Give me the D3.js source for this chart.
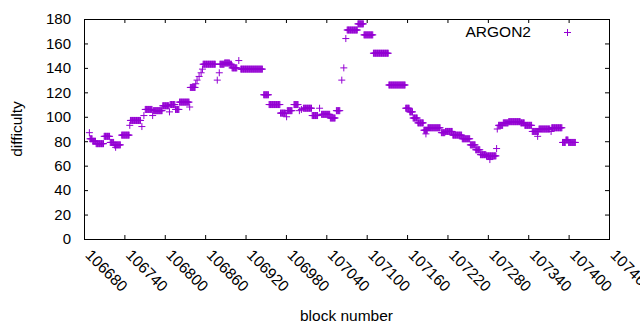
<!DOCTYPE html>
<html>
<head>
<meta charset="utf-8">
<script src="https://cdn.jsdelivr.net/npm/d3@7"></script>
<style>
  body { margin: 0; background: #fff; }
  svg { font-family: "Liberation Sans", Arial, sans-serif; }
</style>
</head>
<body>
<div id="chart"></div>
<script>
// difficulty held constant over runs of blocks: [runStart, runEnd] -> difficulty
const runStart = [106688, 106689, 106693, 106698, 106710, 106719, 106725, 106727, 106736, 106748,
  106749, 106766, 106769, 106771, 106782, 106783, 106797, 106807, 106808, 106816,
  106822, 106837, 106838, 106846, 106848, 106851, 106854, 106856, 106857, 106878,
  106881, 106882, 106889, 106897, 106900, 106910, 106913, 106947, 106955, 106972,
  106981, 106982, 106992, 107000, 107003, 107006, 107019, 107030, 107033, 107046,
  107055, 107063, 107066, 107069, 107071, 107087, 107096, 107110, 107133, 107158,
  107164, 107169, 107176, 107185, 107188, 107191, 107211, 107217, 107228, 107242,
  107254, 107262, 107269, 107278, 107283, 107293, 107294, 107296, 107303, 107311,
  107329, 107335, 107346, 107354, 107356, 107374, 107375, 107391, 107396, 107400];
const runEnd = [106688, 106692, 106697, 106709, 106718, 106724, 106734, 106727, 106747, 106748,
  106764, 106766, 106769, 106781, 106782, 106796, 106806, 106807, 106815, 106821,
  106836, 106837, 106845, 106846, 106848, 106851, 106854, 106856, 106875, 106878,
  106881, 106888, 106896, 106899, 106907, 106910, 106945, 106954, 106971, 106979,
  106981, 106989, 106998, 107000, 107003, 107018, 107027, 107030, 107045, 107053,
  107060, 107063, 107066, 107069, 107086, 107095, 107109, 107132, 107157, 107163,
  107168, 107175, 107184, 107190, 107188, 107209, 107216, 107227, 107241, 107253,
  107261, 107268, 107277, 107292, 107283, 107293, 107294, 107302, 107310, 107328,
  107334, 107345, 107355, 107354, 107372, 107374, 107390, 107395, 107399, 107410];
const difficulty = [87, 82, 80, 78, 84, 79, 77, 75, 85, 93,
  97, 92, 101, 106, 101, 105, 109, 104, 110, 106,
  112, 108, 124, 127, 130, 133, 136, 139, 143, 130,
  136, 143, 144, 143, 140, 146, 139, 118, 110, 103,
  100, 105, 110, 105, 106, 107, 101, 107, 102, 99,
  105, 130, 140, 164, 171, 176, 167, 152, 126, 107,
  104, 99, 95, 89, 86, 91, 87, 88, 85, 82,
  77, 73, 69, 68, 65, 74, 90, 93, 95, 96,
  95, 93, 88, 84, 90, 88, 91, 79, 81, 79];

const xTicks = [106680, 106740, 106800, 106860, 106920, 106980, 107040,
  107100, 107160, 107220, 107280, 107340, 107400, 107460];
const yTicks = [0, 20, 40, 60, 80, 100, 120, 140, 160, 180];
const seriesName = "ARGON2";

const margin = {top: 19, right: 31, bottom: 91, left: 84};
const width = 640 - margin.left - margin.right;
const height = 330 - margin.top - margin.bottom;
const color = "#9400d3";
const plus = "M-3.5,0H3.5M0,-3.5V3.5";

const points = [];
for (let i = 0; i < runStart.length; i++) {
  for (let b = runStart[i]; b <= runEnd[i]; b++) {
    points.push({block: b, value: difficulty[i]});
  }
}

const root = d3.select("#chart")
  .append("svg")
  .attr("width", 640)
  .attr("height", 330);

const svg = root.append("g")
  .attr("transform", `translate(${margin.left}, ${margin.top})`);

const x = d3.scaleLinear()
  .domain([106680, 107460])
  .range([0, width]);
const y = d3.scaleLinear()
  .domain([0, 180])
  .range([height, 0]);

// bottom axis with rotated labels
svg.append("g")
  .attr("transform", `translate(0, ${height})`)
  .call(d3.axisBottom(x).tickValues(xTicks).tickFormat(d3.format("d"))
    .tickSizeInner(-4).tickSizeOuter(0))
  .call(g => g.select(".domain").remove())
  .call(g => g.selectAll("line").attr("stroke", "#000"))
  .selectAll("text")
    .attr("x", 0)
    .attr("y", 0)
    .attr("dy", 0)
    .attr("transform", "translate(0,17) rotate(45)")
    .attr("fill", "#000")
    .attr("font-size", 15.5)
    .style("text-anchor", "start");

svg.append("g")
  .call(d3.axisLeft(y).tickValues(yTicks).tickSizeInner(-4).tickSizeOuter(0).tickPadding(13))
  .call(g => g.select(".domain").remove())
  .call(g => g.selectAll("line").attr("stroke", "#000"))
  .selectAll("text")
    .attr("fill", "#000")
    .attr("font-size", 15);

// mirrored ticks
svg.append("g")
  .call(d3.axisTop(x).tickValues(xTicks).tickFormat("").tickSizeInner(-4).tickSizeOuter(0))
  .call(g => g.select(".domain").remove())
  .call(g => g.selectAll("line").attr("stroke", "#000"));
svg.append("g")
  .attr("transform", `translate(${width}, 0)`)
  .call(d3.axisRight(y).tickValues(yTicks).tickFormat("").tickSizeInner(-4).tickSizeOuter(0))
  .call(g => g.select(".domain").remove())
  .call(g => g.selectAll("line").attr("stroke", "#000"));

svg.append("rect")
  .attr("x", 0.5)
  .attr("y", 0.5)
  .attr("width", width)
  .attr("height", height)
  .attr("fill", "none")
  .attr("stroke", "#000");

svg.append("g")
  .selectAll("path")
  .data(points)
  .join("path")
  .attr("transform", d => `translate(${x(d.block)},${y(d.value)})`)
  .attr("d", plus)
  .attr("fill", "none")
  .attr("stroke", color);

// key
svg.append("text")
  .attr("x", 447)
  .attr("y", 18)
  .attr("font-size", 15.5)
  .attr("text-anchor", "end")
  .text(seriesName);
svg.append("path")
  .attr("transform", "translate(483.5,13.5)")
  .attr("d", plus)
  .attr("fill", "none")
  .attr("stroke", color);

root.append("text")
  .attr("transform", `translate(22, ${margin.top + height / 2}) rotate(-90)`)
  .attr("font-size", 15.5)
  .attr("text-anchor", "middle")
  .text("difficulty");

root.append("text")
  .attr("x", margin.left + width / 2)
  .attr("y", 321)
  .attr("font-size", 15.5)
  .attr("text-anchor", "middle")
  .text("block number");
</script>
</body>
</html>
